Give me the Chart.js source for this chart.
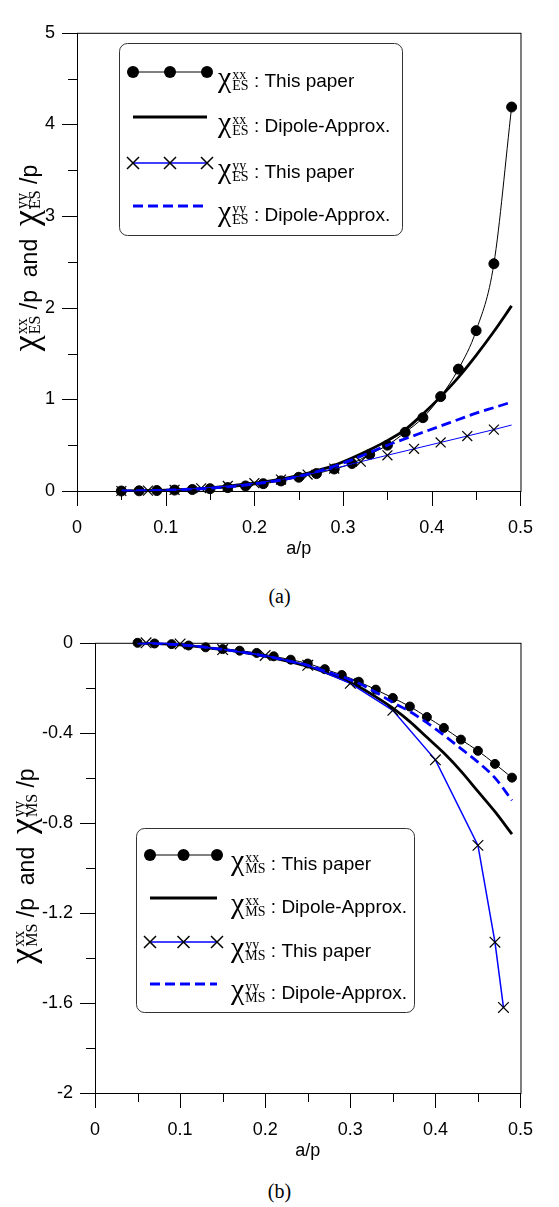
<!DOCTYPE html>
<html>
<head>
<meta charset="utf-8">
<script src="https://cdn.jsdelivr.net/npm/chart.js@4.4.0/dist/chart.umd.min.js"></script>
<style>
  html, body { margin: 0; padding: 0; background: #fff; }
  #page { position: relative; width: 559px; height: 1207px; overflow: hidden; }
  .box { position: absolute; left: 0; width: 559px; }
  .cap { position: absolute; left: 0; width: 559px; text-align: center; font: 20px "Liberation Serif", serif; color: #000; }
</style>
</head>
<body>
<div id="page">
  <div class="box" style="top:0;height:560px"><canvas id="chartA"></canvas></div>
  <div class="cap" style="top:585px">(a)</div>
  <div class="box" style="top:610px;height:552px"><canvas id="chartB"></canvas></div>
  <div class="cap" style="top:1180px">(b)</div>
</div>
<script>
// a/p sample points (every 0.02)
const aFine = [0.05, 0.07, 0.09, 0.11, 0.13, 0.15, 0.17, 0.19, 0.21, 0.23, 0.25, 0.27,
               0.29, 0.31, 0.33, 0.35, 0.37, 0.39, 0.41, 0.43, 0.45, 0.47, 0.49];

// (a) electric susceptibilities
const esXXPaper  = [0.0, 0.002, 0.005, 0.01, 0.016, 0.025, 0.037, 0.055, 0.08, 0.11, 0.15, 0.19,
                    0.24, 0.30, 0.40, 0.50, 0.64, 0.80, 1.03, 1.33, 1.75, 2.48, 4.19];
const esXXDipole = [0.001, 0.003, 0.007, 0.013, 0.022, 0.035, 0.052, 0.075, 0.10, 0.13, 0.17, 0.22,
                    0.28, 0.36, 0.45, 0.55, 0.67, 0.84, 1.03, 1.24, 1.48, 1.74, 2.02];
const esYYDipole = [0.001, 0.003, 0.006, 0.012, 0.02, 0.03, 0.045, 0.065, 0.09, 0.12, 0.16, 0.21,
                    0.27, 0.34, 0.42, 0.50, 0.57, 0.64, 0.71, 0.78, 0.85, 0.91, 0.97];
const esYYPaperA = [0.05, 0.08, 0.11, 0.14, 0.17, 0.20, 0.23, 0.26, 0.29, 0.32, 0.35, 0.38, 0.41, 0.44, 0.47, 0.49];
const esYYPaper  = [0.0, 0.004, 0.012, 0.03, 0.055, 0.085, 0.125, 0.18, 0.245, 0.32, 0.39, 0.46, 0.53, 0.60, 0.67, 0.72];

// (b) magnetic susceptibilities
const msXXPaper  = [0.0, -0.003, -0.006, -0.012, -0.02, -0.028, -0.035, -0.045, -0.06, -0.075, -0.092, -0.117,
                    -0.143, -0.173, -0.208, -0.245, -0.283, -0.33, -0.378, -0.43, -0.48, -0.538, -0.599];
const msXXDipole = [-0.001, -0.003, -0.007, -0.013, -0.021, -0.03, -0.04, -0.053, -0.068, -0.085, -0.105, -0.13,
                    -0.16, -0.195, -0.24, -0.29, -0.35, -0.42, -0.49, -0.57, -0.66, -0.75, -0.85];
const msYYDipole = [-0.001, -0.003, -0.007, -0.012, -0.02, -0.029, -0.04, -0.052, -0.066, -0.083, -0.10, -0.125,
                    -0.15, -0.18, -0.22, -0.265, -0.305, -0.355, -0.41, -0.47, -0.53, -0.60, -0.70];
const msYYPaperA = [0.06, 0.10, 0.15, 0.20, 0.25, 0.30, 0.35, 0.40, 0.45, 0.47, 0.48];
const msYYPaper  = [0.0, -0.005, -0.03, -0.056, -0.10, -0.18, -0.30, -0.52, -0.90, -1.33, -1.62];

const legendTexts = [' : This paper', ' : Dipole-Approx.', ' : This paper', ' : Dipole-Approx.'];
const legendSups = ['xx', 'xx', 'yy', 'yy'];

const BLUE = '#0000ff';
const pts = (xs, ys) => xs.map((x, i) => ({ x, y: ys[i] }));
const fmt = v => String(+v.toFixed(2));

// draws chi with stacked sup/sub followed by plain parts; returns width
function rich(ctx, x, y, parts, f, draw) {
  let cx = x;
  ctx.textAlign = 'left';
  ctx.textBaseline = 'alphabetic';
  ctx.fillStyle = '#000';
  parts.forEach(p => {
    if (p.sup) {
      ctx.font = f.chi + 'px "Liberation Serif"';
      if (draw) ctx.fillText('\u03c7', cx, y);
      cx += ctx.measureText('\u03c7').width + 1;
      ctx.font = f.script + 'px "Liberation Serif"';
      if (draw) {
        ctx.fillText(p.sup, cx, y - f.up);
        ctx.fillText(p.sub, cx, y + f.down);
      }
      cx += Math.max(ctx.measureText(p.sup).width, ctx.measureText(p.sub).width);
    } else {
      ctx.font = f.text + 'px "Liberation Sans"';
      if (draw) ctx.fillText(p.text, cx, y);
      cx += ctx.measureText(p.text).width;
    }
  });
  return cx - x;
}

const decorPlugin = {
  id: 'decor',
  beforeDatasetsDraw(chart) {
    const { ctx, chartArea: a, scales } = chart;
    ctx.save();
    ctx.strokeStyle = '#000';
    ctx.lineWidth = 1;
    ctx.strokeRect(a.left + 0.5, a.top + 0.5, a.right - a.left, a.bottom - a.top);
    const tickMarks = (scale, horizontal) => {
      const vals = scale.ticks.map(t => t.value);
      const marks = vals.map(v => [v, 15]);
      for (let i = 0; i < vals.length - 1; i++) marks.push([(vals[i] + vals[i + 1]) / 2, 9]);
      marks.forEach(([v, len]) => {
        const p = Math.round(scale.getPixelForValue(v)) + 0.5;
        ctx.beginPath();
        if (horizontal) { ctx.moveTo(p, a.bottom); ctx.lineTo(p, a.bottom + len); }
        else { ctx.moveTo(a.left, p); ctx.lineTo(a.left - len, p); }
        ctx.stroke();
      });
    };
    tickMarks(scales.x, true);
    tickMarks(scales.y, false);
    ctx.restore();
  },
  afterDraw(chart, args, o) {
    const { ctx } = chart;
    ctx.save();
    // y axis title, rotated
    const tf = { chi: 36, script: 16, text: 23, up: 10, down: 3 };
    const tparts = [{ sup: 'xx', sub: o.sub }, { text: ' /p  and  ' }, { sup: 'yy', sub: o.sub }, { text: ' /p' }];
    const w = rich(ctx, 0, 0, tparts, tf, false);
    ctx.save();
    ctx.translate(o.titleX, o.titleY);
    ctx.rotate(-Math.PI / 2);
    rich(ctx, -w / 2, 0, tparts, tf, true);
    ctx.restore();

    // legend box
    const L = o.legend;
    ctx.beginPath();
    ctx.roundRect(L.x + 0.5, L.y + 0.5, L.w, L.h, 8);
    ctx.fillStyle = '#fff';
    ctx.fill();
    ctx.strokeStyle = '#333';
    ctx.lineWidth = 1;
    ctx.stroke();
    const lf = { chi: 30, script: 14, text: 19, up: 8, down: 3 };
    const [x0, x1] = L.sx;
    const xm = (x0 + x1) / 2;
    L.rows.forEach((ry, i) => {
      ctx.save();
      ctx.setLineDash([]);
      if (i === 0) {
        ctx.strokeStyle = '#000'; ctx.lineWidth = 1;
        ctx.beginPath(); ctx.moveTo(x0, ry); ctx.lineTo(x1, ry); ctx.stroke();
        ctx.fillStyle = '#000';
        [x0, xm, x1].forEach(px => { ctx.beginPath(); ctx.arc(px, ry, 6, 0, Math.PI * 2); ctx.fill(); });
      } else if (i === 1) {
        ctx.strokeStyle = '#000'; ctx.lineWidth = 3;
        ctx.beginPath(); ctx.moveTo(x0, ry); ctx.lineTo(x1, ry); ctx.stroke();
      } else if (i === 2) {
        ctx.strokeStyle = BLUE; ctx.lineWidth = 1.5;
        ctx.beginPath(); ctx.moveTo(x0, ry); ctx.lineTo(x1, ry); ctx.stroke();
        ctx.strokeStyle = '#000'; ctx.lineWidth = 1.5;
        [x0, xm, x1].forEach(px => {
          ctx.beginPath();
          ctx.moveTo(px - 6, ry - 6); ctx.lineTo(px + 6, ry + 6);
          ctx.moveTo(px - 6, ry + 6); ctx.lineTo(px + 6, ry - 6);
          ctx.stroke();
        });
      } else {
        ctx.strokeStyle = BLUE; ctx.lineWidth = 3; ctx.setLineDash([10, 5]);
        ctx.beginPath(); ctx.moveTo(x0, ry); ctx.lineTo(x1, ry); ctx.stroke();
      }
      ctx.restore();
      rich(ctx, L.tx, ry + 15, [{ sup: legendSups[i], sub: o.sub }, { text: legendTexts[i] }], lf, true);
    });
    ctx.restore();
  }
};

function makeChart(id, sets, yOpts, yWidth, padTop, decor) {
  const tickFont = { family: '"Liberation Sans"', size: 18 };
  return new Chart(document.getElementById(id), {
    type: 'line',
    data: { datasets: sets },
    plugins: [decorPlugin],
    options: {
      responsive: true,
      maintainAspectRatio: false,
      animation: false,
      layout: { padding: { top: padTop, right: 27, left: 0, bottom: 0 } },
      plugins: { legend: { display: false }, tooltip: { enabled: false }, decor },
      scales: {
        x: {
          type: 'linear', min: 0, max: 0.5,
          grid: { display: false, drawTicks: false }, border: { display: false },
          ticks: { stepSize: 0.1, padding: 26, color: '#000', font: tickFont, callback: fmt, maxRotation: 0 },
          title: { display: true, text: 'a/p', color: '#000', font: { family: '"Liberation Sans"', size: 18 }, padding: { top: 0, bottom: 0 } },
          afterFit: s => { s.height = 69; }
        },
        y: Object.assign({
          grid: { display: false, drawTicks: false }, border: { display: false },
          afterFit: s => { s.width = yWidth; }
        }, yOpts)
      }
    }
  });
}

const tickFontY = { family: '"Liberation Sans"', size: 18 };

makeChart('chartA', [
  { data: pts(aFine, esXXPaper), borderColor: '#000', borderWidth: 1, pointRadius: 5,
    pointBackgroundColor: '#000', pointBorderColor: '#000', cubicInterpolationMode: 'monotone', order: 4, clip: false },
  { data: pts(aFine, esXXDipole), borderColor: '#000', borderWidth: 2.8, pointRadius: 0,
    cubicInterpolationMode: 'monotone', order: 3 },
  { data: pts(esYYPaperA, esYYPaper), borderColor: BLUE, borderWidth: 1, pointStyle: 'crossRot',
    pointRadius: ctx => (ctx.dataIndex < esYYPaperA.length - 1 ? 7 : 0),
    pointBorderColor: '#000', pointBorderWidth: 1.2, tension: 0, order: 2, clip: false },
  { data: pts(aFine, esYYDipole), borderColor: BLUE, borderWidth: 2.8, borderDash: [10, 5], pointRadius: 0,
    cubicInterpolationMode: 'monotone', order: 1 }
], {
  min: 0, max: 5,
  ticks: { stepSize: 1, padding: 22, color: '#000', font: tickFontY, callback: fmt }
}, 77, 14, {
  sub: 'ES', titleX: 37, titleY: 258,
  legend: { x: 119, y: 43, w: 283, h: 192, rows: [72, 117, 163, 206], sx: [133, 207], tx: 218 }
});

makeChart('chartB', [
  { data: pts(aFine, msXXPaper), borderColor: '#000', borderWidth: 1, pointRadius: 4.5,
    pointBackgroundColor: '#000', pointBorderColor: '#000', cubicInterpolationMode: 'monotone', order: 4, clip: false },
  { data: pts(aFine, msXXDipole), borderColor: '#000', borderWidth: 2.8, pointRadius: 0,
    cubicInterpolationMode: 'monotone', order: 3 },
  { data: pts(msYYPaperA, msYYPaper), borderColor: BLUE, borderWidth: 1.5, pointStyle: 'crossRot', pointRadius: 7.5,
    pointBorderColor: '#000', pointBorderWidth: 1.2, tension: 0, order: 2, clip: false },
  { data: pts(aFine, msYYDipole), borderColor: BLUE, borderWidth: 2.8, borderDash: [10, 5], pointRadius: 0,
    cubicInterpolationMode: 'monotone', order: 1 }
], {
  min: -2, max: 0,
  ticks: { stepSize: 0.4, padding: 22, color: '#000', font: tickFontY, callback: fmt }
}, 95, 23, {
  sub: 'MS', titleX: 34, titleY: 256,
  legend: { x: 136, y: 218, w: 278, h: 184, rows: [245, 288, 332, 374], sx: [150, 217], tx: 231 }
});
</script>
</body>
</html>
